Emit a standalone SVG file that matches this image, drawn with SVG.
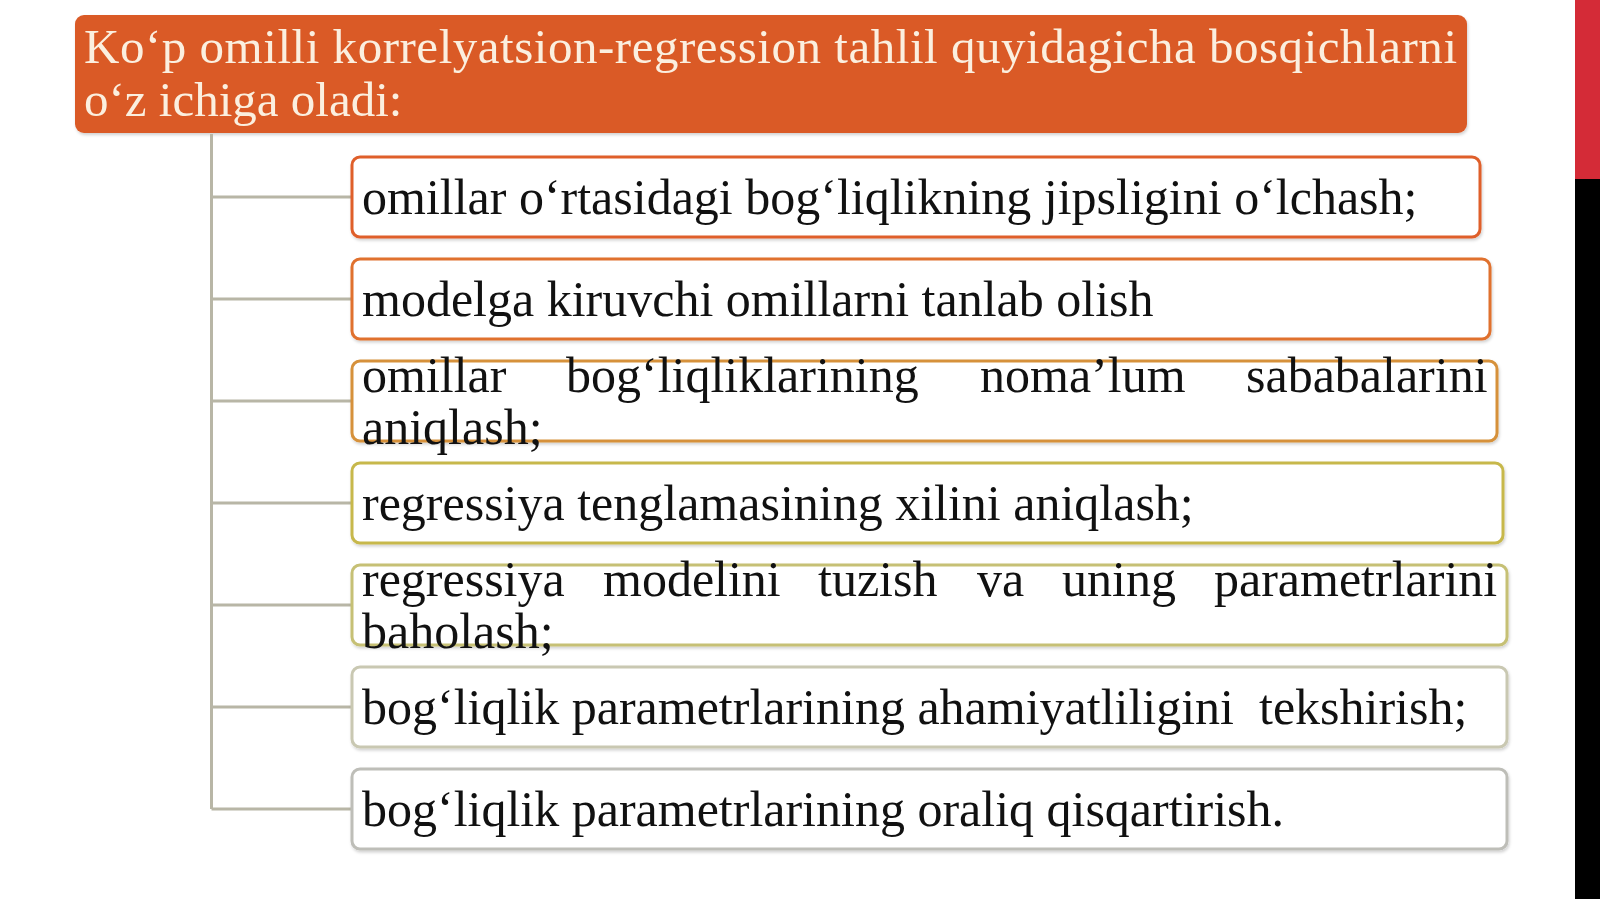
<svg xmlns="http://www.w3.org/2000/svg" width="1600" height="899" viewBox="0 0 1600 899">
<defs>
<filter id="sh" x="-5%" y="-20%" width="110%" height="140%">
<feDropShadow dx="1" dy="2" stdDeviation="1.5" flood-color="#000" flood-opacity="0.18"/>
</filter>
<style>
.box{fill:#ffffff;stroke-width:3;filter:url(#sh)}
.t{font-family:"Liberation Serif","Times New Roman",serif;font-size:50px;fill:#111111}
.h{font-family:"Liberation Serif","Times New Roman",serif;font-size:49px;fill:#FBEFDF}
.c{stroke:#B8B6A6;stroke-width:3;fill:none}
</style>
</defs>
<rect width="1600" height="899" fill="#ffffff"/>
<g id="sidebar">
<rect x="1575" y="0" width="25" height="179" fill="#D42B37"/>
<rect x="1575" y="179" width="25" height="720" fill="#000000"/>
</g>
<g id="header">
<rect x="75" y="15" width="1392" height="118" rx="9" fill="#DA5A27" filter="url(#sh)"/>
<text class="h" x="84" y="63" textLength="1373" lengthAdjust="spacing">Ko‘p omilli korrelyatsion-regression tahlil quyidagicha bosqichlarni</text>
<text class="h" x="84" y="116">o‘z ichiga oladi:</text>
</g>
<g id="connectors">
<path class="c" d="M211.5 134 V809 M211.5 197 H351 M211.5 299 H351 M211.5 401 H351 M211.5 503 H351 M211.5 605 H351 M211.5 707 H351 M211.5 809 H351"/>
</g>
<g id="step1">
<rect class="box" x="352" y="157" width="1128" height="80" rx="8" stroke="#DF5F2B"/>
<text class="t" x="362" y="214">omillar o‘rtasidagi bog‘liqlikning jipsligini o‘lchash;</text>
</g>
<g id="step2">
<rect class="box" x="352" y="259" width="1138" height="80" rx="8" stroke="#E0712F"/>
<text class="t" x="362" y="316">modelga kiruvchi omillarni tanlab olish</text>
</g>
<g id="step3">
<rect class="box" x="352" y="361" width="1145" height="80" rx="8" stroke="#D6913A"/>
<text class="t" y="392"><tspan x="362">omillar</tspan><tspan x="566">bog‘liqliklarining</tspan><tspan x="980">noma’lum</tspan><tspan x="1246">sababalarini</tspan></text>
<text class="t" x="362" y="444">aniqlash;</text>
</g>
<g id="step4">
<rect class="box" x="352" y="463" width="1151" height="80" rx="8" stroke="#C7B84B"/>
<text class="t" x="362" y="520">regressiya tenglamasining xilini aniqlash;</text>
</g>
<g id="step5">
<rect class="box" x="352" y="565" width="1155" height="80" rx="8" stroke="#C6C074"/>
<text class="t" y="596"><tspan x="362">regressiya</tspan><tspan x="603">modelini</tspan><tspan x="818">tuzish</tspan><tspan x="977">va</tspan><tspan x="1062">uning</tspan><tspan x="1214">parametrlarini</tspan></text>
<text class="t" x="362" y="648">baholash;</text>
</g>
<g id="step6">
<rect class="box" x="352" y="667" width="1155" height="80" rx="8" stroke="#C9C8B2"/>
<text class="t" x="362" y="724" xml:space="preserve">bog‘liqlik parametrlarining ahamiyatliligini  tekshirish;</text>
</g>
<g id="step7">
<rect class="box" x="352" y="769" width="1155" height="80" rx="8" stroke="#BEBEB8"/>
<text class="t" x="362" y="826">bog‘liqlik parametrlarining oraliq qisqartirish.</text>
</g>
</svg>
